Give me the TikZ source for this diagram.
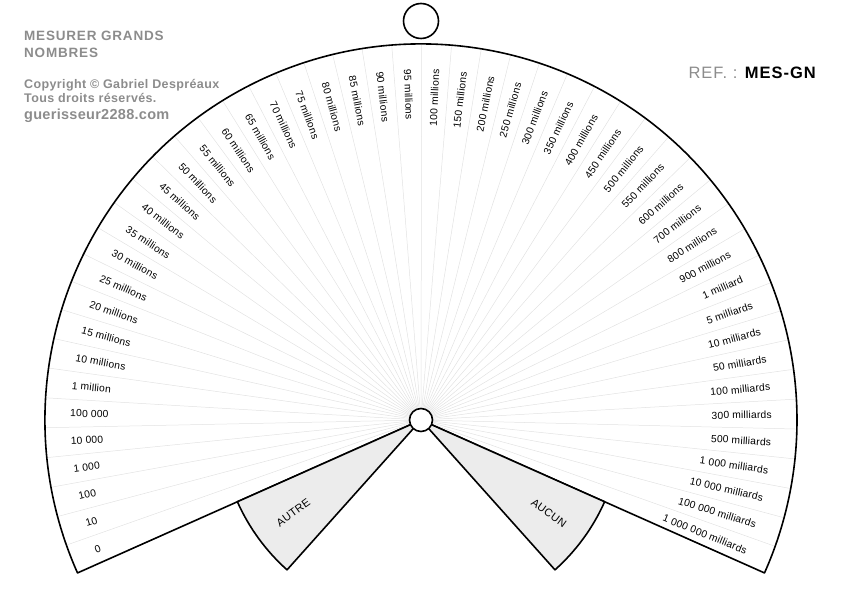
\documentclass[tikz,border=0pt]{standalone}
\usepackage{fontspec}
\setmainfont{Liberation Sans}
\usetikzlibrary{positioning}

\definecolor{headgray}{RGB}{140,140,140}
\definecolor{spokegray}{RGB}{226,226,226}
\definecolor{sectorgray}{RGB}{236,236,236}

\tikzset{
  rim/.style={line width=1.6pt,line join=round},
  spoke/.style={draw=spokegray,line width=.5pt},
  scalelabel/.style={font=\addfontfeature{LetterSpace=2}\fontsize{10.3}{11}\selectfont,inner sep=0pt},
  sectorlabel/.style={font=\addfontfeature{LetterSpace=3}\fontsize{11}{12}\selectfont,inner sep=0pt},
  headline/.style={text=headgray,inner sep=0pt,anchor=base west},
}

\begin{document}
\begin{tikzpicture}[x=1pt,y=1pt]
  \useasboundingbox (0,0) rectangle (842,595);
  \coordinate (hub) at (421,175);

  % spokes of the fan
  \foreach \k in {1,...,49}
    \draw[spoke] (hub) -- ([shift={(204-\k*4.564:375)}]hub);

  % fan outline
  \draw[rim] (hub) -- ([shift={(204:376)}]hub) arc[start angle=204,end angle=-24,radius=376] -- cycle;

  % the two grey sectors
  \draw[rim,fill=sectorgray] (hub) -- ([shift={(204:201)}]hub) arc[start angle=204,end angle=228.2,radius=201] -- cycle;
  \draw[rim,fill=sectorgray] (hub) -- ([shift={(-24:201)}]hub) arc[start angle=-24,end angle=-48.2,radius=201] -- cycle;
  \node[sectorlabel,rotate=36] (autre) at ([shift={(216:158)}]hub) {AUTRE};
  \node[sectorlabel,rotate=-36] (aucun) at ([shift={(-36:158)}]hub) {AUCUN};

  % hole and ring
  \node[circle,draw,line width=1.6pt,fill=white,minimum size=23pt,inner sep=0pt] (hole) at (hub) {};
  \node[circle,draw,line width=1.6pt,minimum size=35pt,inner sep=0pt] (ring) at (421,574) {};

  % values
  \foreach \lab [count=\k from 0] in {0,10,100,1 000,10 000,100 000,1 million,10 millions,15 millions,20 millions,25 millions,30 millions,35 millions,40 millions,45 millions,50 millions,55 millions,60 millions,65 millions,70 millions,75 millions,80 millions,85 millions,90 millions,95 millions,100 millions,150 millions,200 millions,250 millions,300 millions,350 millions,400 millions,450 millions,500 millions,550 millions,600 millions,700 millions,800 millions,900 millions,1 milliard,5 milliards,10 milliards,50 milliards,100 milliards,300 milliards,500 milliards,1 000 milliards,10 000 milliards,100 000 milliards,1 000 000 milliards}{
    \pgfmathsetmacro\ang{204-(\k+.5)*4.564}
    \ifdim\ang pt>90pt
      \node[scalelabel,anchor=west,rotate=\ang-180] (val\k) at ([shift={(\ang:351)}]hub) {\lab};
    \else
      \node[scalelabel,anchor=east,rotate=\ang] (val\k) at ([shift={(\ang:351)}]hub) {\lab};
    \fi
  }

  % header texts
  \node[headline,font=\addfontfeature{LetterSpace=6}\bfseries\fontsize{13.5}{14}\selectfont] (title) at (24,554.3) {MESURER GRANDS};
  \node[headline,font=\addfontfeature{LetterSpace=6}\bfseries\fontsize{13.5}{14}\selectfont] (title2) at (24,537.7) {NOMBRES};
  \node[headline,font=\addfontfeature{LetterSpace=3}\bfseries\fontsize{12.5}{13}\selectfont] (copy) at (24,506) {Copyright © Gabriel Despréaux};
  \node[headline,font=\addfontfeature{LetterSpace=3}\bfseries\fontsize{12.5}{13}\selectfont] (rights) at (24,492) {Tous droits réservés.};
  \node[headline,font=\addfontfeature{LetterSpace=2}\bfseries\fontsize{14.5}{15}\selectfont] (site) at (24,475.3) {guerisseur2288.com};
  \node[inner sep=0pt,anchor=base east,font=\addfontfeature{LetterSpace=6}\fontsize{16.5}{17}\selectfont] (ref) at (817,516.7) {\textcolor{headgray}{REF. :} \textbf{MES-GN}};
\end{tikzpicture}
\end{document}
